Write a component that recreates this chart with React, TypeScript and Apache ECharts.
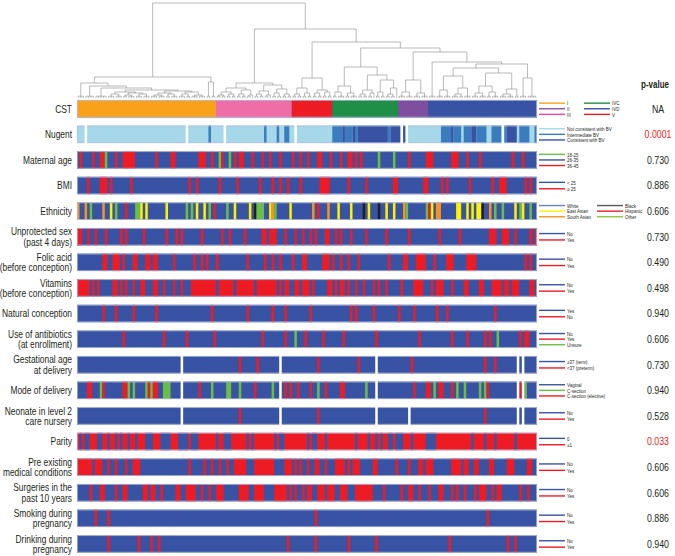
import React, { useEffect, useRef } from 'react';
import * as echarts from 'echarts';

const N_SAMPLES = 182;
const BAR = 0.684; // bar height as a fraction of the row pitch
const FONT = "'Liberation Sans', Arial, sans-serif";
const NARROW = 0.8; // horizontal squeeze to mimic the condensed typeface

type Tree = number | [number, Tree, Tree];

// Dendrogram: [mergeHeight, left, right]; a bare number = tight cluster of that many leaves
const treeCST_I: Tree = [21, [15, 3, [12, 4, [10, 5, [8, [6, [4, 3, 3], [5, [3, 2, 3], [4, 3, 3]]], [7, [5, [3, 3, 3], [4, 2, 3]], [6, [4, 3, 2], [3, 3, 3]]]]]]], [16, 2, 2]];
const treeCST_II: Tree = [15, [10, [6, [3, 2, 2], [4, 2, 2]], [8, [4, 2, 2], [3, 2, 1]]], [13, [7, [4, 2, 2], [3, 2, 1]], [9, [5, 2, 2], [4, 2, 2]]]];
const treeCST_III: Tree = [20, [10, [4, 2, 2], [5, 2, 2]], [8, [5, 2, 2], [6, 2, 2]]];
const treeCST_IVC: Tree = [31, [12, [6, 2, 3], [5, 2, 3]], [23, [8, [4, 2, 2], [5, 2, 1]], [18, [6, 2, 2], [10, [4, 2, 2], 1]]]];
const treeCST_IVD: Tree = [18, [6, 3, 3], [5, 3, 3]];
const treeCST_V: Tree = [36, 3, [34, [30, [22, [8, 3, 3], [10, [4, 3, 2], 3]], [25, [12, [5, 3, 3], [6, 2, 3]], [9, [4, 3, 3], 2]]], [20, 3, 4]]];
const dendrogram: Tree = [95, treeCST_I, [69, treeCST_II, [56, treeCST_III, [50, treeCST_IVC, [46, treeCST_IVD, treeCST_V]]]]];

const COLORS: Record<string, string> = {
  B: '#3953a4', R: '#ed1c24', G: '#6abd45', Y: '#fff200', O: '#f7941d', K: '#231f20',
  L: '#a7d8e9', M: '#3b7cbf', D: '#3953a4', W: '#ffffff',
  I: '#f9a11b', II: '#ef6ea8', III: '#ed1c24', IVC: '#1f8e46', IVD: '#7e4f9e', V: '#3953a4',
};

type Mark = [number, number, string]; // [first sample, count, code]

const cstMarks: Mark[] = [[0, 55, 'I'], [55, 30, 'II'], [85, 16, 'III'], [101, 26, 'IVC'], [127, 12, 'IVD'], [139, 43, 'V']];
const nugentMarks: Mark[] = [
  [3, 1, 'W'], [43, 1, 'W'], [52, 1, 'M'], [58, 1, 'W'], [74, 1, 'M'], [79, 1, 'M'], [82, 2, 'M'], [86, 1, 'W'],
  [101, 4, 'M'], [105, 1, 'D'], [106, 3, 'M'], [109, 1, 'D'], [110, 1, 'M'], [111, 12, 'D'], [123, 1, 'M'], [124, 4, 'D'],
  [128, 1, 'W'], [129, 1, 'D'], [130, 1, 'W'], [144, 4, 'M'], [148, 1, 'D'], [149, 3, 'M'], [153, 3, 'M'], [156, 2, 'D'],
  [158, 4, 'M'], [164, 4, 'M'], [168, 1, 'W'], [169, 1, 'M'], [170, 4, 'D'], [175, 4, 'M'], [181, 1, 'M'],
];
const maternalAgeMarks: Mark[] = [
  [1, 1, 'R'], [6, 1, 'R'], [9, 2, 'R'], [11, 1, 'G'], [15, 1, 'R'], [18, 5, 'R'], [31, 1, 'R'], [37, 2, 'R'], [48, 2, 'R'],
  [50, 1, 'R'], [53, 1, 'R'], [56, 1, 'G'], [57, 1, 'R'], [60, 1, 'G'], [62, 1, 'R'], [64, 2, 'R'], [69, 1, 'R'], [73, 1, 'R'],
  [76, 1, 'R'], [80, 1, 'R'], [85, 1, 'R'], [88, 1, 'R'], [91, 1, 'R'], [95, 2, 'R'], [100, 1, 'R'], [104, 1, 'R'], [107, 2, 'R'],
  [110, 1, 'R'], [112, 1, 'R'], [119, 1, 'G'], [125, 1, 'G'], [131, 1, 'R'], [138, 3, 'R'], [148, 3, 'R'], [154, 1, 'R'],
  [159, 1, 'R'], [172, 1, 'R'], [176, 1, 'R'],
];
const bmiMarks: Mark[] = [
  [4, 1, 'R'], [9, 3, 'R'], [13, 1, 'R'], [21, 1, 'R'], [44, 1, 'R'], [47, 1, 'R'], [56, 1, 'R'], [63, 1, 'R'], [72, 1, 'R'],
  [77, 1, 'R'], [80, 1, 'R'], [83, 1, 'R'], [88, 1, 'R'], [96, 4, 'R'], [107, 1, 'R'], [114, 1, 'R'], [125, 2, 'R'],
  [137, 2, 'R'], [144, 1, 'R'], [146, 1, 'R'], [155, 1, 'R'], [164, 1, 'R'], [167, 3, 'R'], [177, 1, 'R'], [179, 1, 'R'],
];
const ethnicityMarks: Mark[] = [
  [0, 1, 'O'], [3, 1, 'O'], [5, 1, 'G'], [10, 1, 'O'], [13, 1, 'Y'], [15, 1, 'G'], [19, 1, 'R'], [23, 2, 'G'], [25, 1, 'Y'],
  [27, 1, 'Y'], [35, 1, 'Y'], [43, 1, 'G'], [45, 1, 'G'], [47, 1, 'Y'], [50, 1, 'Y'], [52, 1, 'G'], [54, 1, 'R'], [59, 1, 'G'],
  [62, 1, 'Y'], [68, 1, 'Y'], [70, 1, 'K'], [71, 3, 'G'], [76, 1, 'Y'], [77, 1, 'O'], [78, 1, 'G'], [84, 1, 'Y'], [93, 1, 'O'],
  [95, 1, 'R'], [99, 1, 'O'], [103, 1, 'Y'], [108, 1, 'Y'], [113, 1, 'K'], [115, 1, 'Y'], [119, 1, 'K'], [122, 1, 'Y'],
  [125, 1, 'Y'], [129, 1, 'O'], [130, 1, 'G'], [138, 1, 'G'], [139, 1, 'R'], [140, 1, 'Y'], [142, 2, 'O'], [150, 2, 'Y'],
  [154, 1, 'Y'], [156, 1, 'Y'], [158, 2, 'Y'], [160, 1, 'K'], [163, 1, 'O'], [165, 1, 'G'], [168, 1, 'G'], [173, 1, 'Y'],
  [175, 1, 'G'], [176, 1, 'Y'], [179, 1, 'G'],
];
const unprotectedSexMarks: Mark[] = [
  [0, 2, 'R'], [4, 1, 'R'], [7, 1, 'R'], [11, 1, 'R'], [17, 1, 'R'], [19, 1, 'R'], [26, 1, 'R'], [35, 1, 'R'], [39, 1, 'R'],
  [41, 1, 'R'], [49, 1, 'R'], [57, 1, 'R'], [60, 1, 'R'], [66, 1, 'R'], [73, 2, 'R'], [76, 3, 'R'], [82, 1, 'R'], [86, 1, 'R'],
  [89, 1, 'R'], [92, 1, 'R'], [94, 1, 'R'], [98, 2, 'R'], [102, 1, 'R'], [104, 1, 'R'], [108, 1, 'R'], [114, 1, 'R'],
  [122, 1, 'R'], [131, 1, 'R'], [143, 1, 'R'], [151, 1, 'R'], [163, 3, 'R'], [168, 3, 'R'], [173, 1, 'R'], [179, 1, 'R'], [181, 1, 'R'],
];
const folicAcidMarks: Mark[] = [
  [10, 2, 'R'], [14, 3, 'R'], [18, 1, 'R'], [22, 2, 'R'], [27, 2, 'R'], [30, 2, 'R'], [38, 1, 'R'], [46, 1, 'R'], [49, 1, 'R'],
  [51, 1, 'R'], [55, 1, 'R'], [67, 1, 'R'], [74, 1, 'R'], [77, 1, 'R'], [80, 1, 'R'], [85, 1, 'R'], [89, 2, 'R'], [97, 3, 'R'],
  [101, 1, 'R'], [104, 1, 'R'], [107, 1, 'R'], [111, 1, 'R'], [123, 1, 'R'], [129, 2, 'R'], [134, 4, 'R'], [141, 1, 'R'],
  [146, 3, 'R'], [154, 4, 'R'], [177, 1, 'R'], [179, 1, 'R'],
];
const vitaminsMarks: Mark[] = [
  [0, 5, 'R'], [6, 1, 'R'], [8, 1, 'R'], [14, 2, 'R'], [17, 1, 'R'], [19, 1, 'R'], [22, 1, 'R'], [25, 2, 'R'], [30, 2, 'R'],
  [34, 1, 'R'], [38, 1, 'R'], [41, 1, 'R'], [45, 10, 'R'], [56, 6, 'R'], [63, 7, 'R'], [71, 8, 'R'], [80, 1, 'R'], [82, 2, 'R'],
  [86, 2, 'R'], [89, 3, 'R'], [93, 1, 'R'], [99, 2, 'R'], [102, 1, 'R'], [104, 2, 'R'], [107, 1, 'R'], [110, 1, 'R'],
  [113, 1, 'R'], [117, 1, 'R'], [119, 1, 'R'], [122, 1, 'R'], [128, 1, 'R'], [133, 4, 'R'], [140, 1, 'R'], [142, 3, 'R'],
  [148, 1, 'R'], [153, 2, 'R'], [159, 2, 'R'], [164, 4, 'R'], [169, 2, 'R'], [172, 3, 'R'], [179, 2, 'R'],
];
const naturalConceptionMarks: Mark[] = [
  [10, 1, 'R'], [15, 1, 'R'], [22, 1, 'R'], [31, 1, 'R'], [53, 1, 'R'], [67, 1, 'R'], [77, 1, 'R'], [82, 1, 'R'], [92, 1, 'R'],
  [108, 1, 'R'], [110, 1, 'R'], [117, 1, 'R'], [127, 1, 'R'], [133, 1, 'R'], [142, 1, 'R'], [146, 1, 'R'], [165, 1, 'R'],
];
const antibioticsMarks: Mark[] = [
  [18, 1, 'R'], [34, 1, 'R'], [43, 1, 'R'], [54, 1, 'R'], [73, 1, 'R'], [82, 1, 'R'], [86, 1, 'G'], [90, 1, 'R'], [97, 1, 'R'],
  [105, 1, 'R'], [118, 1, 'R'], [135, 1, 'R'], [148, 1, 'R'], [154, 1, 'R'], [161, 1, 'R'], [163, 1, 'R'], [166, 1, 'G'],
  [175, 1, 'R'], [177, 2, 'R'],
];
const gestationalAgeMarks: Mark[] = [
  [41, 1, 'W'], [64, 1, 'R'], [71, 1, 'R'], [80, 1, 'W'], [95, 1, 'R'], [111, 1, 'R'], [118, 1, 'W'], [132, 1, 'R'],
  [161, 1, 'R'], [165, 1, 'R'], [174, 1, 'W'], [176, 1, 'W'],
];
const deliveryModeMarks: Mark[] = [
  [4, 2, 'R'], [9, 1, 'G'], [10, 1, 'R'], [18, 2, 'R'], [20, 1, 'G'], [22, 1, 'G'], [27, 1, 'G'], [28, 1, 'R'], [29, 1, 'G'],
  [30, 2, 'R'], [34, 3, 'G'], [41, 1, 'W'], [48, 1, 'R'], [53, 1, 'G'], [59, 2, 'G'], [64, 1, 'G'], [70, 1, 'R'], [77, 1, 'G'],
  [80, 1, 'W'], [82, 1, 'R'], [84, 1, 'R'], [87, 1, 'R'], [92, 1, 'R'], [95, 1, 'G'], [98, 1, 'R'], [104, 2, 'R'], [114, 1, 'G'],
  [118, 1, 'W'], [133, 1, 'R'], [138, 2, 'R'], [141, 1, 'G'], [143, 2, 'R'], [148, 1, 'R'], [150, 1, 'G'], [153, 1, 'G'],
  [159, 1, 'G'], [161, 1, 'G'], [162, 1, 'R'], [174, 1, 'W'], [175, 1, 'R'], [176, 1, 'W'], [177, 1, 'G'],
];
const neonateMarks: Mark[] = [
  [41, 1, 'W'], [64, 1, 'R'], [80, 1, 'W'], [95, 1, 'R'], [118, 1, 'W'], [131, 1, 'W'], [161, 1, 'R'], [174, 1, 'W'], [176, 1, 'W'],
];
// parity: base is '>=1' (red); marks are parity 0 (blue)
const parityMarks: Mark[] = [
  [1, 1, 'B'], [3, 2, 'B'], [8, 2, 'B'], [12, 1, 'B'], [15, 1, 'B'], [17, 1, 'B'], [20, 1, 'B'], [23, 1, 'B'], [27, 3, 'B'],
  [33, 4, 'B'], [40, 4, 'B'], [45, 3, 'B'], [55, 1, 'B'], [58, 3, 'B'], [67, 1, 'B'], [69, 1, 'B'], [78, 1, 'B'], [80, 2, 'B'],
  [91, 1, 'B'], [93, 2, 'B'], [98, 1, 'B'], [110, 1, 'B'], [115, 1, 'B'], [118, 1, 'B'], [120, 1, 'B'], [123, 2, 'B'],
  [126, 3, 'B'], [132, 1, 'B'], [138, 4, 'B'], [156, 1, 'B'], [161, 1, 'B'], [165, 1, 'B'], [173, 1, 'B'],
];
const preExistingMarks: Mark[] = [
  [0, 6, 'R'], [7, 3, 'R'], [12, 1, 'R'], [15, 1, 'R'], [19, 1, 'R'], [22, 3, 'R'], [44, 1, 'R'], [50, 1, 'R'], [53, 1, 'R'],
  [56, 1, 'R'], [59, 1, 'R'], [62, 5, 'R'], [70, 8, 'R'], [82, 3, 'R'], [86, 1, 'R'], [88, 1, 'R'], [91, 1, 'R'], [94, 2, 'R'],
  [98, 1, 'R'], [102, 4, 'R'], [107, 1, 'R'], [109, 3, 'R'], [117, 2, 'R'], [126, 1, 'R'], [131, 1, 'R'], [135, 2, 'R'],
  [138, 3, 'R'], [148, 4, 'R'], [153, 2, 'R'], [157, 2, 'R'], [163, 2, 'R'], [170, 3, 'R'], [178, 2, 'R'],
];
const surgeriesMarks: Mark[] = [
  [5, 1, 'R'], [9, 2, 'R'], [15, 1, 'R'], [18, 2, 'R'], [26, 2, 'R'], [29, 2, 'R'], [33, 1, 'R'], [39, 2, 'R'], [43, 4, 'R'],
  [49, 1, 'R'], [52, 1, 'R'], [55, 3, 'R'], [64, 4, 'R'], [70, 4, 'R'], [78, 5, 'R'], [84, 1, 'R'], [86, 1, 'R'], [89, 1, 'R'],
  [91, 2, 'R'], [95, 3, 'R'], [99, 3, 'R'], [104, 3, 'R'], [110, 7, 'R'], [121, 1, 'R'], [128, 1, 'R'], [131, 2, 'R'],
  [135, 1, 'R'], [139, 1, 'R'], [143, 2, 'R'], [148, 1, 'R'], [150, 1, 'R'], [153, 1, 'R'], [157, 1, 'R'], [159, 3, 'R'],
  [164, 1, 'R'], [166, 2, 'R'], [175, 1, 'R'], [178, 1, 'R'],
];
const smokingMarks: Mark[] = [[7, 1, 'R'], [12, 1, 'R'], [94, 1, 'R'], [162, 1, 'R']];
const drinkingMarks: Mark[] = [
  [12, 1, 'R'], [24, 1, 'R'], [29, 1, 'R'], [32, 1, 'R'], [83, 1, 'R'], [94, 1, 'R'], [107, 1, 'R'], [118, 1, 'R'],
  [147, 1, 'R'], [170, 1, 'R'], [173, 1, 'R'],
];

const rowLabels = [
  'CST', 'Nugent', 'Maternal age', 'BMI', 'Ethnicity', 'Unprotected sex\n(past 4 days)', 'Folic acid\n(before conception)',
  'Vitamins\n(before conception)', 'Natural conception', 'Use of antibiotics\n(at enrollment)', 'Gestational age\nat delivery',
  'Mode of delivery', 'Neonate in level 2\ncare nursery', 'Parity', 'Pre existing\nmedical conditions',
  'Surgeries in the\npast 10 years', 'Smoking during\npregnancy', 'Drinking during\npregnancy',
];
const rowBase = ['V', 'L', 'B', 'B', 'B', 'B', 'B', 'B', 'B', 'B', 'B', 'B', 'B', 'R', 'B', 'B', 'B', 'B'];
const rowMarks: Mark[][] = [
  cstMarks, nugentMarks, maternalAgeMarks, bmiMarks, ethnicityMarks, unprotectedSexMarks, folicAcidMarks, vitaminsMarks,
  naturalConceptionMarks, antibioticsMarks, gestationalAgeMarks, deliveryModeMarks, neonateMarks, parityMarks,
  preExistingMarks, surgeriesMarks, smokingMarks, drinkingMarks,
];
const pValues = ['NA', '0.0001', '0.730', '0.886', '0.606', '0.730', '0.490', '0.498', '0.940', '0.606', '0.730', '0.940', '0.528', '0.033', '0.606', '0.606', '0.886', '0.940'];
const pSignificant = [false, true, false, false, false, false, false, false, false, false, false, false, false, true, false, false, false, false];

type Entry = [string, string];
const noYes: Entry[][] = [[['No', '#3953a4'], ['Yes', '#ed1c24']]];
const rowLegends: Entry[][][] = [
  [[['I', '#f9a11b'], ['II', '#8e4f9f'], ['III', '#ec4899']], [['IVC', '#1f8e46'], ['IVD', '#3953a4'], ['V', '#ed1c24']]],
  [[['Not consistent with BV', '#a7d8e9'], ['Intermediate BV', '#3b7cbf'], ['Consistent with BV', '#3953a4']]],
  [[['18-25', '#6abd45'], ['26-35', '#3953a4'], ['36-45', '#ed1c24']]],
  [[['< 25', '#3953a4'], ['\u2265 25', '#ed1c24']]],
  [[['White', '#6a7fc4'], ['East Asian', '#fff200'], ['South Asian', '#f7941d']], [['Black', '#58595b'], ['Hispanic', '#ed1c24'], ['Other', '#8dc63f']]],
  noYes, noYes, noYes,
  [[['Yes', '#3953a4'], ['No', '#ed1c24']]],
  [[['No', '#3953a4'], ['Yes', '#ed1c24'], ['Unsure', '#6abd45']]],
  [[['\u226537 (term)', '#3953a4'], ['<37 (preterm)', '#ed1c24']]],
  [[['Vaginal', '#3953a4'], ['C-section', '#6abd45'], ['C-section (elective)', '#ed1c24']]],
  noYes,
  [[['0', '#3953a4'], ['\u22651', '#ed1c24']]],
  noYes, noYes, noYes, noYes,
];
const legendCol2Offset = [45, 0, 0, 0, 58, 0, 0, 0, 0, 0, 0, 0, 0, 0, 0, 0, 0, 0];

function layoutTree(tree: Tree) {
  const segs: number[][] = [];
  let leaf = 0;
  const COMB = 1.8;
  const walk = (t: Tree): { x: number; h: number } => {
    if (typeof t === 'number') {
      const xs: number[] = [];
      for (let k = 0; k < t; k++) xs.push(leaf++ + 0.5);
      if (t === 1) return { x: xs[0], h: 0 };
      xs.forEach((x) => segs.push([x, 0, x, COMB]));
      segs.push([xs[0], COMB, xs[xs.length - 1], COMB]);
      return { x: (xs[0] + xs[xs.length - 1]) / 2, h: COMB };
    }
    const [h, a, b] = t;
    const pa = walk(a);
    const pb = walk(b);
    segs.push([pa.x, pa.h, pa.x, h]);
    segs.push([pb.x, pb.h, pb.x, h]);
    segs.push([pa.x, h, pb.x, h]);
    return { x: (pa.x + pb.x) / 2, h };
  };
  walk(tree);
  return segs;
}

export default function App() {
  const ref = useRef<HTMLDivElement>(null);
  useEffect(() => {
    if (!ref.current) return;
    const chart = echarts.init(ref.current, undefined, { renderer: 'svg' });
    const segs = layoutTree(dendrogram);
    const txt = (x: number, y: number, text: string, size: number, align: string, fill = '#231f20', bold = false) => ({
      type: 'text', x, y, scaleX: NARROW,
      style: { text, fill, font: `${bold ? 'bold ' : ''}${size}px ${FONT}`, align, verticalAlign: 'middle', lineHeight: 10.5 },
    });
    const option: any = {
      animation: false,
      grid: [
        { left: 77, top: 0, width: 460, height: 98 },
        { left: 77, top: 100, width: 460, height: 452.7 },
      ],
      xAxis: [
        { gridIndex: 0, type: 'value', min: 0, max: N_SAMPLES, show: false },
        { gridIndex: 1, type: 'value', min: 0, max: N_SAMPLES, show: false },
      ],
      yAxis: [
        { gridIndex: 0, type: 'value', min: 0, max: 98, show: false },
        { gridIndex: 1, type: 'value', min: 0, max: 17 + BAR, inverse: true, show: false },
      ],
      graphic: [txt(655, 85, 'p-value', 10, 'center', '#231f20', true)],
      series: [
        {
          type: 'custom',
          xAxisIndex: 0,
          yAxisIndex: 0,
          data: segs,
          encode: { x: [0, 2], y: [1, 3] },
          renderItem: (params: any, api: any) => {
            const p1 = api.coord([api.value(0), api.value(1)]);
            const p2 = api.coord([api.value(2), api.value(3)]);
            return {
              type: 'line',
              shape: { x1: p1[0], y1: p1[1], x2: p2[0], y2: p2[1] },
              style: { stroke: '#8c8c8c', lineWidth: 0.6 },
            };
          },
        },
        {
          type: 'custom',
          xAxisIndex: 1,
          yAxisIndex: 1,
          data: rowLabels.map((_, i) => [0, i]),
          renderItem: (params: any, api: any) => {
            const r = params.dataIndex;
            const [xl, yt] = api.coord([0, r]);
            const [xr, yb] = api.coord([N_SAMPLES, r + BAR]);
            const h = yb - yt;
            const yc = (yt + yb) / 2;
            const xOf = (i: number) => api.coord([i, r])[0];
            const ch: any[] = [];
            ch.push({ type: 'rect', shape: { x: xl, y: yt, width: xr - xl, height: h }, style: { fill: COLORS[rowBase[r]] } });
            rowMarks[r].forEach(([s, n, c]) => {
              if (c === 'W') return;
              ch.push({ type: 'rect', shape: { x: xOf(s), y: yt, width: xOf(s + n) - xOf(s), height: h }, style: { fill: COLORS[c] } });
            });
            ch.push({ type: 'rect', shape: { x: xl + 0.4, y: yt + 0.4, width: xr - xl - 0.8, height: h - 0.8 }, style: { fill: 'none', stroke: '#b4bde0', lineWidth: 0.8 } });
            rowMarks[r].forEach(([s, n, c]) => {
              if (c !== 'W') return;
              ch.push({ type: 'rect', shape: { x: xOf(s), y: yt - 1, width: xOf(s + n) - xOf(s), height: h + 2 }, style: { fill: '#ffffff' } });
            });
            ch.push(txt(xl - 5, yc, rowLabels[r], 10.5, 'right'));
            rowLegends[r].forEach((col, ci) => {
              const x0 = xr + 2 + (ci === 0 ? 0 : legendCol2Offset[r]);
              const k = col.length;
              const step = k === 3 ? 5.6 : 6.4;
              col.forEach(([lab, color], ei) => {
                const y = yc + (ei - (k - 1) / 2) * step;
                ch.push({ type: 'line', shape: { x1: x0, y1: y, x2: x0 + 26, y2: y }, style: { stroke: color, lineWidth: 1.4 } });
                ch.push(txt(x0 + 28, y, lab, 5.6, 'left'));
              });
            });
            ch.push(txt(658, yc, pValues[r], 11, 'center', pSignificant[r] ? '#ed1c24' : '#231f20'));
            return { type: 'group', children: ch };
          },
        },
      ],
    };
    chart.setOption(option);
    return () => chart.dispose();
  }, []);
  return <div ref={ref} style={{ position: 'fixed', left: 0, top: 0, width: 675, height: 556, background: '#fff' }} />;
}
